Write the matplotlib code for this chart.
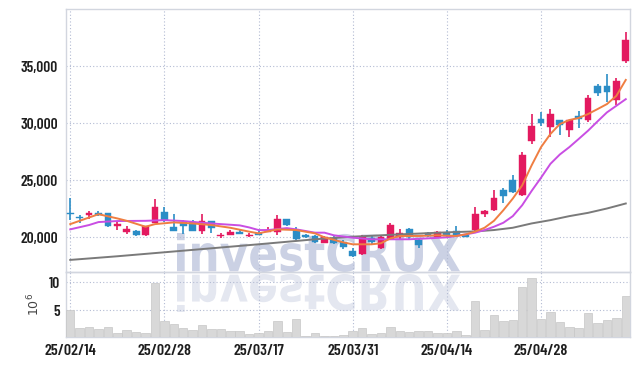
"""Daily candlestick chart with moving averages and volume."""

import matplotlib

matplotlib.use("Agg")
import matplotlib.pyplot as plt
from matplotlib.font_manager import FontProperties
from matplotlib.patches import PathPatch
from matplotlib.textpath import TextPath
from matplotlib.transforms import Affine2D, IdentityTransform
import numpy as np

plt.rcParams["font.family"] = ["Barlow Condensed", "DejaVu Sans"]

dates = [
    "25/02/14", "25/02/17", "25/02/18", "25/02/19", "25/02/20", "25/02/21", "25/02/24", "25/02/25",
    "25/02/26", "25/02/27", "25/02/28", "25/03/04", "25/03/05", "25/03/06", "25/03/07", "25/03/10",
    "25/03/11", "25/03/12", "25/03/13", "25/03/14", "25/03/17", "25/03/18", "25/03/19", "25/03/20",
    "25/03/21", "25/03/24", "25/03/25", "25/03/26", "25/03/27", "25/03/28", "25/03/31", "25/04/01",
    "25/04/02", "25/04/03", "25/04/04", "25/04/07", "25/04/08", "25/04/09", "25/04/10", "25/04/11",
    "25/04/14", "25/04/15", "25/04/16", "25/04/17", "25/04/18", "25/04/21", "25/04/22", "25/04/23",
    "25/04/24", "25/04/25", "25/04/28", "25/04/29", "25/04/30", "25/05/02", "25/05/07", "25/05/08",
    "25/05/09", "25/05/12", "25/05/13", "25/05/14",
]

opens = [
    22100, 21750, 21900, 22100, 22100, 20950, 20400, 20500, 20200, 21250,
    22200, 20900, 21280, 21340, 20550, 21400, 20100, 20200, 20440, 20100,
    20350, 20460, 20460, 21620, 20600, 20170, 20100, 19500, 19940, 19560,
    18810, 18520, 19880, 19010, 19800, 20030, 20670, 19740, 20320, 19970,
    20320, 20490, 20170, 20610, 22060, 22410, 24100, 25030, 23660, 28460,
    30380, 29620, 30290, 29390, 30640, 30290, 33260, 33260, 32040, 35440,
]
closes = [
    22000, 21700, 22100, 21950, 20950, 21100, 20700, 20200, 20950, 22600,
    21500, 20550, 20990, 20550, 21400, 20780, 20170, 20440, 20290, 20170,
    20200, 20640, 21620, 21050, 19800, 19970, 19530, 20030, 19450, 19160,
    18340, 19970, 19530, 19970, 21050, 20320, 19970, 19270, 20120, 20440,
    20090, 20120, 19970, 22060, 22270, 23460, 23580, 23920, 27150, 29770,
    30030, 30790, 29860, 30290, 30350, 32180, 32590, 32760, 33690, 37320,
]
highs = [
    23400, 21950, 22250, 22250, 22100, 21400, 20950, 20650, 20950, 23300,
    22600, 22000, 21480, 21480, 21980, 21400, 20320, 20640, 20730, 20380,
    20520, 20870, 21890, 21620, 20900, 20260, 20200, 20130, 20150, 19740,
    19010, 20150, 20090, 20090, 21190, 20730, 20780, 19910, 20410, 20550,
    20610, 20990, 20260, 22590, 22350, 24160, 24330, 25410, 27440, 30790,
    30930, 31220, 30290, 30290, 31080, 32470, 33400, 34270, 33920, 37940,
]
lows = [
    21500, 21250, 21600, 21800, 20850, 20650, 20300, 20100, 20100, 21250,
    21350, 20500, 20260, 20490, 20230, 20380, 19900, 20170, 20230, 19970,
    20140, 20400, 20170, 20950, 19700, 19870, 19450, 19450, 19390, 18920,
    18230, 18460, 19390, 18920, 19740, 19800, 19860, 19010, 20030, 19910,
    19970, 20030, 19970, 20550, 21720, 22300, 22940, 23870, 23580, 28170,
    29770, 28810, 28980, 28750, 29560, 30060, 32360, 31800, 31600, 35290,
]

# volume in millions of shares
volumes = [
    5.0, 1.85, 2.0, 1.67, 2.0, 0.95, 1.5, 1.13, 0.95, 9.9,
    3.1, 2.6, 1.85, 1.5, 2.4, 1.67, 1.67, 1.3, 1.3, 0.83,
    1.0, 1.3, 3.1, 1.13, 3.45, 0.54, 0.95, 0.54, 0.54, 0.6,
    1.3, 1.85, 0.83, 1.0, 2.0, 1.3, 1.13, 1.3, 1.3, 0.95,
    0.95, 1.3, 0.6, 6.67, 1.5, 4.17, 3.1, 3.27, 9.17, 10.8,
    3.45, 4.7, 2.9, 2.0, 1.85, 4.5, 2.7, 3.27, 3.6, 7.56,
]

ma_short_idx = [0, 2, 3, 5, 6, 8, 9, 11, 13, 15, 17, 19, 20, 22, 24, 26, 27, 29, 30, 31, 32, 33,
                34, 35, 37, 39, 41, 42, 43, 44, 45, 46, 47, 48, 49, 50, 51, 52, 53, 54, 55, 56,
                57, 58, 59]
ma_short = [21130, 21710, 22000, 21630, 21420, 20900, 21130, 21280, 21190, 21050, 20810, 20470,
            20320, 20670, 20610, 20320, 19970, 19530, 19360, 19360, 19360, 19450, 19880, 20090,
            20090, 20150, 20090, 20230, 20470, 20810, 21420, 22350, 23370, 24530, 26280, 27880,
            29040, 29910, 30260, 30440, 30790, 31220, 31660, 32380, 33780]

ma_mid_idx = [0, 2, 3, 5, 8, 10, 12, 14, 16, 18, 19, 20, 21, 23, 24, 26, 27, 28, 30, 32, 34, 36,
              38, 40, 42, 43, 44, 45, 46, 47, 48, 49, 50, 51, 52, 53, 54, 55, 56, 57, 58, 59]
ma_mid = [20670, 21050, 21310, 21400, 21420, 21480, 21400, 21250, 21130, 21020, 20840, 20610,
          20610, 20780, 20670, 20380, 20380, 20150, 19940, 19800, 19800, 19800, 19880, 19970,
          20230, 20380, 20610, 20900, 21250, 21830, 22790, 24040, 25200, 26420, 27240, 27880,
          28600, 29330, 30140, 30930, 31510, 32090]

ma_long_idx = [0, 5, 10, 15, 20, 26, 30, 35, 40, 43, 45, 47, 49, 51, 53, 55, 57, 59]
ma_long = [17990, 18310, 18660, 19010, 19360, 19800, 20030, 20230, 20410, 20490, 20610, 20810,
           21190, 21480, 21830, 22120, 22500, 22940]

price_ticks = [20000, 25000, 30000, 35000]
volume_ticks = [5, 10]

UP = "#e3195f"
DOWN = "#2b8dc6"
GRID = "#b3bbd3"
EDGE = "#d2d6df"


def _watermark(fig, text, box, color, flip=False):
    path = TextPath((0, 0), text, size=100, prop=FontProperties(family="DejaVu Sans", weight="bold"))
    ext = path.get_extents()
    x0, y0, x1, y1 = box
    sx = (x1 - x0) / ext.width
    sy = (y1 - y0) / ext.height
    if flip:
        tr = Affine2D().translate(-ext.x0, -ext.y1).scale(sx, -sy).translate(x0, y0)
    else:
        tr = Affine2D().translate(-ext.x0, -ext.y0).scale(sx, sy).translate(x0, y0)
    patch = PathPatch(tr.transform_path(path), facecolor=color, edgecolor="none",
                      transform=IdentityTransform(), zorder=-5)
    fig.add_artist(patch)


def _style(ax):
    ax.set_facecolor("none")
    for side in ax.spines.values():
        side.set_color(EDGE)
        side.set_linewidth(1.0)
    ax.tick_params(length=0, colors="#1e1e1e", labelsize=11)
    ax.grid(True, color=GRID, linestyle=(0, (1, 2)), linewidth=0.8)


W, H = 639, 366
fig = plt.figure(figsize=(W / 100, H / 100), dpi=100)
fig.patch.set_facecolor("white")

_watermark(fig, "investCRUX", (177, 94, 460, 133), "#cbd1e4")
_watermark(fig, "investCRUX", (177, 54, 460, 92), "#e4e7f0", flip=True)

ax = fig.add_axes([66 / W, (H - 272) / H, (630 - 66) / W, (272 - 9) / H])
vax = fig.add_axes([66 / W, (H - 337) / H, (630 - 66) / W, (337 - 272) / H], sharex=ax)
_style(ax)
_style(vax)

x = np.arange(len(dates))
o = np.array(opens, dtype=float)
c = np.array(closes, dtype=float)
colors = [UP if cc >= oo else DOWN for oo, cc in zip(o, c)]

ax.vlines(x, lows, highs, colors=colors, linewidth=1.2, zorder=3)
body = np.maximum(np.abs(c - o), 60)
ax.bar(x, body, bottom=np.minimum(o, c), width=0.72, color=colors, edgecolor=colors,
       linewidth=0.3, zorder=4)

ax.plot(ma_long_idx, ma_long, color="#7a7a7a", linewidth=1.4, zorder=5)
ax.plot(ma_mid_idx, ma_mid, color="#c94ee3", linewidth=1.4, zorder=5)
ax.plot(ma_short_idx, ma_short, color="#ef7e42", linewidth=1.4, zorder=6)

ax.set_xlim(-0.45, len(dates) - 0.55)
ax.set_ylim(16930, 40000)
ax.set_yticks(price_ticks)
ax.set_yticklabels([f"{v:,}" for v in price_ticks], fontweight="semibold")
ax.set_xticks(x[::10])
ax.tick_params(axis="x", labelbottom=False)
ax.tick_params(axis="y", pad=6)

vax.bar(x, volumes, width=0.9, color="#d8d8d8", edgecolor="#c6c6c6", linewidth=0.5, zorder=3)
vax.set_ylim(0.3, 11.8)
vax.set_yticks(volume_ticks)
vax.set_yticklabels([str(v) for v in volume_ticks], fontweight="semibold")
vax.tick_params(axis="y", pad=4)
vax.set_xticks(x[::10])
vax.set_xticklabels(dates[::10], fontweight="semibold", fontsize=11.5)
vax.tick_params(axis="x", pad=5)
vax.set_ylabel(r"$10^6$", fontsize=9, color="#444444", va="center")
vax.yaxis.set_label_coords(-0.057, 0.5)

fig.savefig("out.png", dpi=100)
plt.close(fig)
